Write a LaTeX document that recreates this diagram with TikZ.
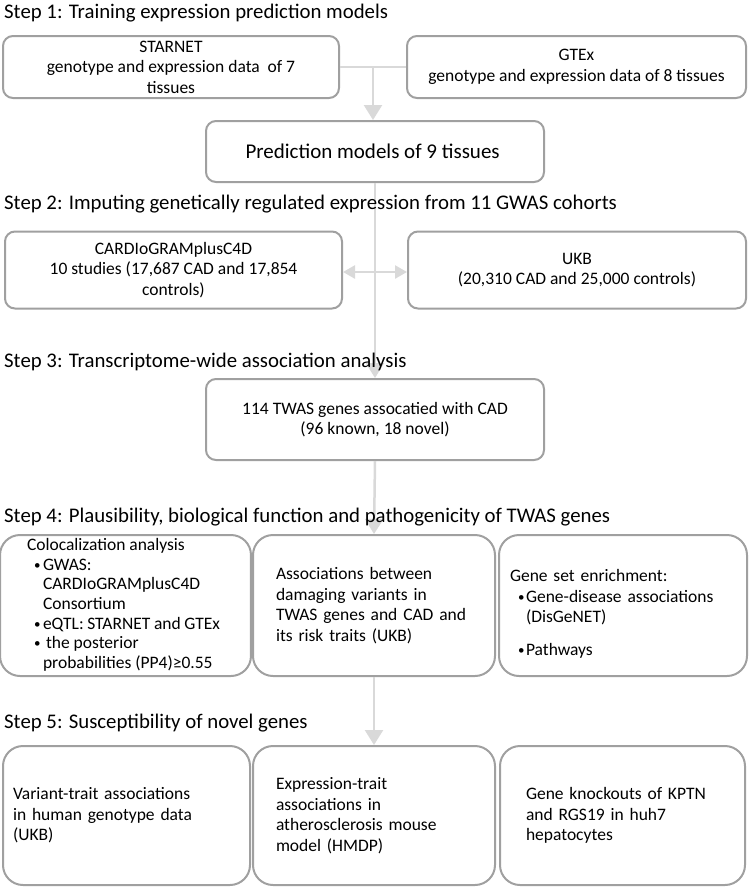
\documentclass[tikz,border=0pt]{standalone}
\usepackage{fontspec}
\setmainfont{Carlito}
\usepackage{tikz}
\usetikzlibrary{arrows.meta,calc}
\definecolor{framegray}{RGB}{160,160,160}
\definecolor{linkgray}{RGB}{217,217,217}
\newcommand{\dotmark}{\raisebox{1pt}{\fontsize{13}{13}\selectfont •}}

\begin{document}
\begin{tikzpicture}[x=1pt, y=-1pt,
    every node/.style={font=\fontsize{17.5}{20.5}\selectfont},
    steptitle/.style={anchor=west, inner sep=0pt, font=\fontsize{20.8}{24}\selectfont},
    smallbox/.style={draw=framegray, line width=2pt, rounded corners=10pt, align=center},
    tallbox/.style={draw=framegray, line width=2pt, rounded corners=20pt, align=left, inner ysep=0pt},
    connector/.style={draw=linkgray, line width=2.5pt},
    flow/.style={-{Triangle[length=15pt, width=18pt]}}]
    \useasboundingbox (0,0) rectangle (749,887);

    \node[smallbox, minimum width=336pt, minimum height=62pt] (starnet) at (171,67) {
      STARNET\\genotype and expression data\ \ of 7\\tissues
    };
    \node[smallbox, minimum width=339pt, minimum height=62pt] (gtex) at (576.5,67) {
      GTEx\\genotype and expression data of 8 tissues
    };
    \node[smallbox, minimum width=338pt, minimum height=61pt, font=\fontsize{21}{25}\selectfont] (pred) at (375,151.5) {
      Prediction models of 9 tissues
    };
    \node[smallbox, minimum width=337pt, minimum height=77pt] (cardio) at (173.5,270) {
      CARDIoGRAMplusC4D\\10 studies (17,687 CAD and 17,854\\controls)
    };
    \node[smallbox, minimum width=338pt, minimum height=77pt] (ukb) at (577,270) {
      UKB\\(20,310 CAD and 25,000 controls)
    };
    \node[smallbox, minimum width=338pt, minimum height=81pt] (twas) at (375,419.5) {
      114 TWAS genes assocatied with CAD\\(96 known, 18 novel)
    };

    \node[tallbox, minimum height=141pt, inner xsep=27pt, font=\fontsize{17.5}{19.7}\selectfont] (coloc) at (125.5,605.5) {
      \begin{tabular}{@{}p{193pt}@{}}
      Colocalization analysis\\
      \hspace*{7pt}\makebox[9pt][l]{\dotmark}GWAS:\\
      \hspace*{16pt}CARDIoGRAMplusC4D\\
      \hspace*{16pt}Consortium\\
      \hspace*{7pt}\makebox[9pt][l]{\dotmark}eQTL: STARNET and GTEx\\
      \hspace*{7pt}\makebox[12pt][l]{\dotmark}the posterior\\
      \hspace*{16pt}probabilities (PP4)≥0.55
      \end{tabular}
    };
    \node[tallbox, minimum height=141pt, text width=196pt, inner xsep=23pt] (damage) at (374,605.5) {
      Associations between\\damaging variants in\\TWAS genes and CAD and\\its risk traits (UKB)
    };
    \node[tallbox, minimum height=141pt, text width=226pt, inner xsep=11pt] (enrich) at (623,605.5) {
      \rule{0pt}{29pt}Gene set enrichment:\\
      \hspace*{8pt}\makebox[8pt][l]{\dotmark}Gene-disease associations\\
      \hspace*{16pt}(DisGeNET)\\[12pt]
      \hspace*{8pt}\makebox[8pt][l]{\dotmark}Pathways
    };

    \node[tallbox, minimum height=139pt, text width=227pt, inner xsep=10pt] (variant) at (126.5,815.5) {
      Variant-trait associations\\in human genotype data\\(UKB)
    };
    \node[tallbox, minimum height=139pt, text width=196pt, inner xsep=23pt] (mouse) at (374,815.5) {
      Expression-trait\\associations in\\atherosclerosis mouse\\model (HMDP)
    };
    \node[tallbox, minimum height=139pt, text width=193pt, inner xsep=26pt] (knockout) at (622.5,815.5) {
      Gene knockouts of KPTN\\and RGS19 in huh7\\hepatocytes
    };

    \coordinate (split) at ($(starnet.east)!0.5!(gtex.west)$);
    \draw[connector] (starnet.east) -- (gtex.west);
    \draw[connector, flow] (split) -- (split |- pred.north);
    \draw[connector, flow] (pred.south) -- (twas.north);
    \draw[connector, {Triangle[length=12pt, width=13pt]}-{Triangle[length=12pt, width=13pt]}] ([yshift=-2pt]cardio.east) -- ([yshift=-2pt]ukb.west);
    \draw[connector, flow] (twas.south) -- (damage.north);
    \draw[connector, flow] (damage.south) -- (mouse.north);

    \node[steptitle] (title1) at (4,13) {Step 1: Training expression prediction models};
    \node[steptitle] (title2) at (4,204) {Step 2: Imputing genetically regulated expression from 11 GWAS cohorts};
    \node[steptitle] (title3) at (4,362) {Step 3: Transcriptome-wide association analysis};
    \node[steptitle] (title4) at (4,517) {Step 4: Plausibility, biological function and pathogenicity of TWAS genes};
    \node[steptitle] (title5) at (4,723) {Step 5: Susceptibility of novel genes};
  \end{tikzpicture}
\end{document}
